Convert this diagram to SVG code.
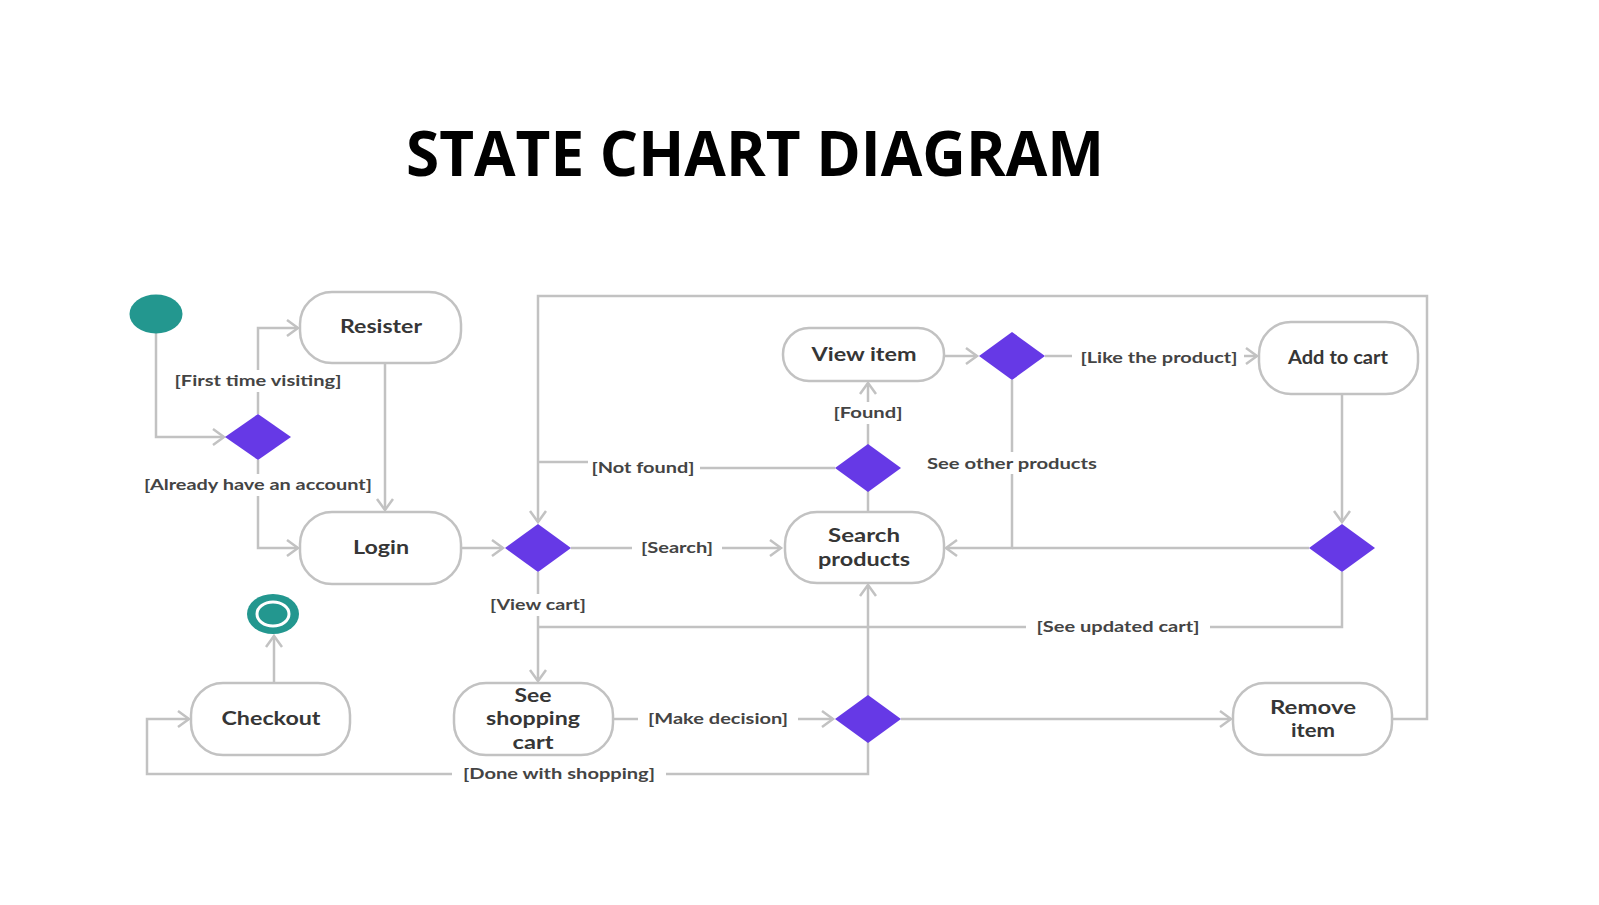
<svg xmlns="http://www.w3.org/2000/svg" width="1599" height="905" viewBox="0 0 1599 905">
<style>
.node{fill:#fff;stroke:#c2c2c2;stroke-width:2.5}
.dia{fill:#6639e6}
.teal{fill:#23978f}
.conn{fill:none;stroke:#c2c2c2;stroke-width:2.5}
.nt{font-family:Lato,"Liberation Sans",sans-serif;font-weight:700;font-size:18px;fill:#363636;text-anchor:middle}
.lt{font-family:Lato,"Liberation Sans",sans-serif;font-weight:700;font-size:15.5px;fill:#444;text-anchor:middle}
.bg{fill:#fff}
.title{font-family:"Open Sans","Liberation Sans",sans-serif;font-weight:700;font-size:63px;fill:#000;text-anchor:middle}
</style>
<defs>
<marker id="arr" markerUnits="userSpaceOnUse" markerWidth="16" markerHeight="20" refX="12" refY="9" orient="auto" viewBox="0 0 16 20">
<path d="M1,1 L12,9 L1,17" fill="none" stroke="#c2c2c2" stroke-width="2.5"/>
</marker>
</defs>
<rect width="1599" height="905" fill="#fff"/>
<text class="title" x="755" y="176" textLength="698" lengthAdjust="spacingAndGlyphs">STATE CHART DIAGRAM</text>

<g id="connectors">
<path class="conn" d="M156,333 V437 H224" marker-end="url(#arr)"/>
<path class="conn" d="M258,414 V328 H298" marker-end="url(#arr)"/>
<path class="conn" d="M258,460 V548 H298" marker-end="url(#arr)"/>
<path class="conn" d="M385,363 V510" marker-end="url(#arr)"/>
<path class="conn" d="M461,548 H503" marker-end="url(#arr)"/>
<path class="conn" d="M571,548 H781" marker-end="url(#arr)"/>
<path class="conn" d="M868,512 V491"/>
<path class="conn" d="M868,445 V383" marker-end="url(#arr)"/>
<path class="conn" d="M835,468 H700"/>
<path class="conn" d="M588,462 H538"/>
<path class="conn" d="M1392,719 H1427 V296 H538 V522" marker-end="url(#arr)"/>
<path class="conn" d="M944,356 H977" marker-end="url(#arr)"/>
<path class="conn" d="M1045,356 H1257" marker-end="url(#arr)"/>
<path class="conn" d="M1012,380 V548 H946" marker-end="url(#arr)"/>
<path class="conn" d="M1342,394 V522" marker-end="url(#arr)"/>
<path class="conn" d="M1309,548 H1012"/>
<path class="conn" d="M1342,572 V627 H538"/>
<path class="conn" d="M538,572 V681" marker-end="url(#arr)"/>
<path class="conn" d="M613,719 H833" marker-end="url(#arr)"/>
<path class="conn" d="M868,696 V585" marker-end="url(#arr)"/>
<path class="conn" d="M901,719 H1231" marker-end="url(#arr)"/>
<path class="conn" d="M868,742 V774 H147 V719 H189" marker-end="url(#arr)"/>
<path class="conn" d="M274,683 V636" marker-end="url(#arr)"/>

<g id="labels">
<rect class="bg" x="166" y="370" width="184" height="22"/>
<text class="lt" x="258" y="386" textLength="167" lengthAdjust="spacingAndGlyphs">[First time visiting]</text>
<rect class="bg" x="138" y="474" width="240" height="22"/>
<text class="lt" x="258" y="490" textLength="228" lengthAdjust="spacingAndGlyphs">[Already have an account]</text>
<rect class="bg" x="588" y="456" width="112" height="22"/>
<text class="lt" x="643" y="473" textLength="103" lengthAdjust="spacingAndGlyphs">[Not found]</text>
<rect class="bg" x="828" y="402" width="80" height="22"/>
<text class="lt" x="868" y="418" textLength="69" lengthAdjust="spacingAndGlyphs">[Found]</text>
<rect class="bg" x="920" y="452" width="184" height="22"/>
<text class="lt" x="1012" y="469" textLength="170" lengthAdjust="spacingAndGlyphs">See other products</text>
<rect class="bg" x="1072" y="346" width="172" height="22"/>
<text class="lt" x="1159" y="363" textLength="157" lengthAdjust="spacingAndGlyphs">[Like the product]</text>
<rect class="bg" x="632" y="537" width="90" height="22"/>
<text class="lt" x="677" y="553" textLength="72" lengthAdjust="spacingAndGlyphs">[Search]</text>
<rect class="bg" x="484" y="594" width="108" height="22"/>
<text class="lt" x="538" y="610" textLength="96" lengthAdjust="spacingAndGlyphs">[View cart]</text>
<rect class="bg" x="1026" y="616" width="184" height="22"/>
<text class="lt" x="1118" y="632" textLength="163" lengthAdjust="spacingAndGlyphs">[See updated cart]</text>
<rect class="bg" x="638" y="708" width="160" height="22"/>
<text class="lt" x="718" y="724" textLength="140" lengthAdjust="spacingAndGlyphs">[Make decision]</text>
<rect class="bg" x="452" y="763" width="214" height="22"/>
<text class="lt" x="559" y="779" textLength="192" lengthAdjust="spacingAndGlyphs">[Done with shopping]</text>
</g>
</g>

<g id="initial">
<ellipse class="teal" cx="156" cy="314" rx="26.5" ry="19.5"/>
</g>
<g id="final">
<ellipse class="teal" cx="273" cy="614" rx="26" ry="20"/>
<ellipse class="teal" cx="273" cy="614" rx="16" ry="12" stroke="#fff" stroke-width="3"/>
</g>

<g id="resister">
<rect class="node" x="300" y="292" width="161" height="71" rx="32"/>
<text class="nt" x="381" y="333" textLength="82" lengthAdjust="spacingAndGlyphs">Resister</text>
</g>
<g id="login">
<rect class="node" x="300" y="512" width="161" height="72" rx="32"/>
<text class="nt" x="381" y="554" textLength="56" lengthAdjust="spacingAndGlyphs">Login</text>
</g>
<g id="view-item">
<rect class="node" x="783" y="328" width="161" height="53" rx="26"/>
<text class="nt" x="864" y="361" textLength="105" lengthAdjust="spacingAndGlyphs">View item</text>
</g>
<g id="add-to-cart">
<rect class="node" x="1259" y="322" width="159" height="72" rx="32"/>
<text class="nt" x="1338" y="364" font-size="17" textLength="100" lengthAdjust="spacingAndGlyphs">Add to cart</text>
</g>
<g id="search-products">
<rect class="node" x="785" y="512" width="159" height="71" rx="32"/>
<text class="nt" x="864" y="542" textLength="72" lengthAdjust="spacingAndGlyphs">Search</text>
<text class="nt" x="864" y="566" textLength="92" lengthAdjust="spacingAndGlyphs">products</text>
</g>
<g id="see-shopping-cart">
<rect class="node" x="454" y="683" width="159" height="72" rx="32"/>
<text class="nt" x="533" y="702" textLength="37" lengthAdjust="spacingAndGlyphs">See</text>
<text class="nt" x="533" y="725" textLength="94" lengthAdjust="spacingAndGlyphs">shopping</text>
<text class="nt" x="533" y="749" textLength="41" lengthAdjust="spacingAndGlyphs">cart</text>
</g>
<g id="checkout">
<rect class="node" x="191" y="683" width="159" height="72" rx="32"/>
<text class="nt" x="271" y="725" textLength="99" lengthAdjust="spacingAndGlyphs">Checkout</text>
</g>
<g id="remove-item">
<rect class="node" x="1233" y="683" width="159" height="72" rx="32"/>
<text class="nt" x="1313" y="714" textLength="86" lengthAdjust="spacingAndGlyphs">Remove</text>
<text class="nt" x="1313" y="737" textLength="44" lengthAdjust="spacingAndGlyphs">item</text>
</g>

<g id="decision-1"><polygon class="dia" points="258,414 291,437 258,460 225,437"/></g>
<g id="decision-2"><polygon class="dia" points="538,524 571,548 538,572 505,548"/></g>
<g id="decision-found"><polygon class="dia" points="868,444 901,468 868,492 835,468"/></g>
<g id="decision-3"><polygon class="dia" points="1012,332 1045,356 1012,380 979,356"/></g>
<g id="decision-4"><polygon class="dia" points="1342,524 1375,548 1342,572 1309,548"/></g>
<g id="decision-5"><polygon class="dia" points="868,695 901,719 868,743 835,719"/></g>
</svg>
